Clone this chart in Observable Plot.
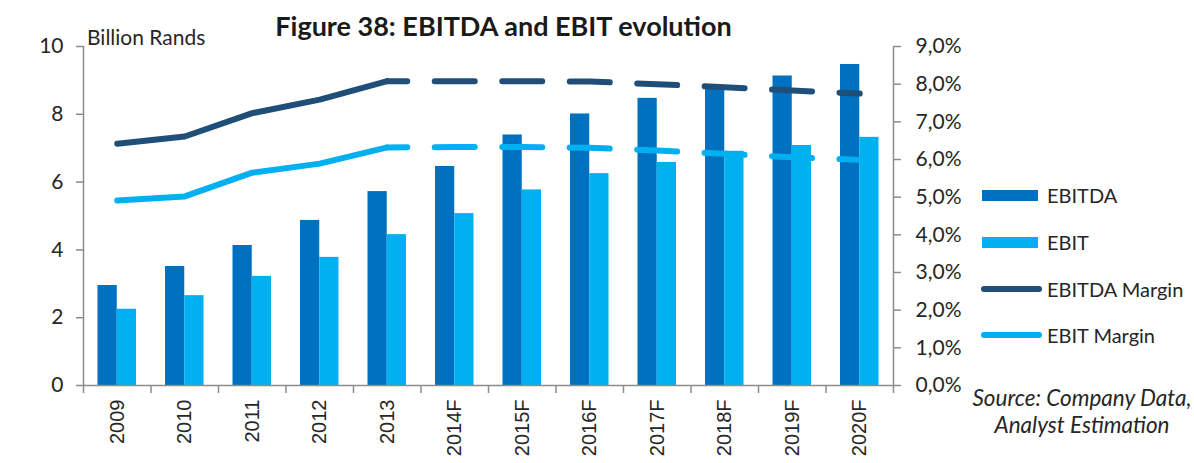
<!DOCTYPE html>
<html>
<head>
<meta charset="utf-8">
<script src="https://cdn.jsdelivr.net/npm/d3@7"></script>
<script src="https://cdn.jsdelivr.net/npm/@observablehq/plot@0.6"></script>
<style>
  html, body { margin: 0; padding: 0; background: #fff; }
  #wrap { position: relative; width: 1194px; height: 463px; overflow: hidden; font-family: Lato, "Noto Sans", sans-serif; color: #1f1f1f; }
  #chart { position: absolute; left: 0; top: 0; }
  .abs { position: absolute; white-space: nowrap; }
  .title { left: 0; width: 1007px; top: 12.1px; text-align: center; font-size: 27px; font-weight: 700; line-height: 27px; color: #1a1a1a; }
  .unit { left: 87px; top: 26.4px; font-size: 21px; line-height: 21px; color: #262626; }
  .legend-item { left: 981px; height: 0; }
  .legend-item .sw { position: absolute; left: 0; }
  .legend-item .lab { position: absolute; left: 66px; font-size: 20px; line-height: 20px; top: -9.8px; color: #262626; }
  .source { left: 960px; width: 244px; text-align: center; font-size: 22.5px; line-height: 22.5px; font-style: italic; color: #262626; }
</style>
</head>
<body>
<div id="wrap">
  <div id="chart"></div>
  <div class="abs title">Figure 38: EBITDA and EBIT evolution</div>
  <div class="abs unit">Billion Rands</div>
  <div id="legend"></div>
  <div class="abs source" style="top: 386.7px">Source: Company Data,</div>
  <div class="abs source" style="top: 413.5px">Analyst Estimation</div>
</div>
<script>
// Years (actuals through 2013, forecasts after)
const years = ["2009", "2010", "2011", "2012", "2013", "2014F", "2015F", "2016F", "2017F", "2018F", "2019F", "2020F"];
const lastActual = "2013";
// Billion Rands
const ebitda = [2.95, 3.51, 4.13, 4.87, 5.72, 6.46, 7.39, 8.01, 8.47, 8.77, 9.13, 9.47];
const ebit = [2.25, 2.65, 3.22, 3.78, 4.45, 5.07, 5.77, 6.25, 6.58, 6.91, 7.08, 7.32];
// Margins, percent
const ebitdaMargin = [6.42, 6.61, 7.23, 7.59, 8.08, 8.08, 8.08, 8.07, 8.00, 7.92, 7.83, 7.75];
const ebitMargin = [4.91, 5.02, 5.65, 5.89, 6.32, 6.33, 6.33, 6.31, 6.24, 6.15, 6.06, 5.99];
// Axis ticks
const leftTicks = [0, 2, 4, 6, 8, 10];
const rightTicks = [0, 1, 2, 3, 4, 5, 6, 7, 8, 9];

const colors = { ebitda: "#0070C0", ebit: "#00B0F0", ebitdaMargin: "#1F4E79", ebitMargin: "#00B0F0" };
const axisGray = "#8c8c8c";
const textColor = "#262626";

// Left axis runs 0–10, right axis 0–9 %; margins are drawn on the left scale
const leftMax = 10, rightMax = 9;
const toLeft = (p) => p * leftMax / rightMax;

const rows = years.map((year, i) => ({
  year, ebitda: ebitda[i], ebit: ebit[i],
  ebitdaMargin: ebitdaMargin[i], ebitMargin: ebitMargin[i]
}));
const split = years.indexOf(lastActual);
const actual = rows.slice(0, split + 1);
const forecast = rows.slice(split);

const W = 1194, H = 463;
const margin = { top: 46, right: 301, bottom: 78, left: 83 };
const step = (W - margin.left - margin.right) / years.length;
const pairWidth = 38.5;
const padInner = 1 - pairWidth / step;
const lineWidth = 6;
// long dashes centred on each forecast year
const dashLen = 40, gapLen = step - dashLen;

const lineOpts = (key, color) => ({
  x: "year", y: (d) => toLeft(d[key]), stroke: color, strokeWidth: lineWidth,
  strokeLinecap: "round", strokeLinejoin: "round"
});

const chart = Plot.plot({
  width: W, height: H,
  marginTop: margin.top, marginRight: margin.right, marginBottom: margin.bottom, marginLeft: margin.left,
  style: { fontFamily: "Lato, 'Noto Sans', sans-serif", fontSize: "21px", color: textColor, background: "transparent", overflow: "visible" },
  x: { domain: years, paddingInner: padInner, paddingOuter: padInner / 2, round: false, label: null },
  y: { domain: [0, leftMax], label: null },
  marks: [
    Plot.barY(rows, { x: "year", y: "ebitda", fill: colors.ebitda, insetRight: pairWidth / 2 }),
    Plot.barY(rows, { x: "year", y: "ebit", fill: colors.ebit, insetLeft: pairWidth / 2 }),
    // axis lines
    Plot.ruleY([0], { stroke: axisGray, strokeWidth: 1.5 }),
    Plot.ruleX([years[0]], { dx: -step / 2, stroke: axisGray, strokeWidth: 1.5 }),
    Plot.ruleX([years[years.length - 1]], { dx: step / 2, stroke: axisGray, strokeWidth: 1.5 }),
    // left axis
    Plot.axisY(leftTicks, { anchor: "left", tickSize: 7, tickPadding: 13, stroke: axisGray, strokeWidth: 1.5, fill: textColor, fontSize: 21, label: null }),
    // right axis (percent)
    Plot.axisY(rightTicks.map(toLeft), {
      anchor: "right", tickSize: 7, tickPadding: 15, stroke: axisGray, strokeWidth: 1.5, fill: textColor, fontSize: 21, label: null,
      tickFormat: (d) => (d * rightMax / leftMax).toFixed(1).replace(".", ",") + "%"
    }),
    // bottom ticks between categories
    Plot.axisX(years, { anchor: "bottom", tickSize: 8, dx: -step / 2, stroke: axisGray, strokeWidth: 1.5, fill: "none", label: null }),
    Plot.axisX([years[years.length - 1]], { anchor: "bottom", tickSize: 8, dx: step / 2, stroke: axisGray, strokeWidth: 1.5, fill: "none", label: null }),
    // year labels
    Plot.axisX(years, { anchor: "bottom", tickSize: 0, tickPadding: 14, tickRotate: -90, fill: textColor, fontFamily: "'Liberation Sans', Arial, sans-serif", fontSize: 20, label: null }),
    // margins: solid for actuals, dashed for forecasts
    Plot.line(actual, lineOpts("ebitdaMargin", colors.ebitdaMargin)),
    Plot.line(forecast, { ...lineOpts("ebitdaMargin", colors.ebitdaMargin), strokeDasharray: `${dashLen},${gapLen}`, strokeDashoffset: dashLen / 2 }),
    Plot.line(actual, lineOpts("ebitMargin", colors.ebitMargin)),
    Plot.line(forecast, { ...lineOpts("ebitMargin", colors.ebitMargin), strokeDasharray: `${dashLen},${gapLen}`, strokeDashoffset: dashLen / 2 })
  ]
});
document.getElementById("chart").append(chart);

// Legend
const legendItems = [
  { label: "EBITDA", color: colors.ebitda, kind: "bar", y: 195 },
  { label: "EBIT", color: colors.ebit, kind: "bar", y: 242 },
  { label: "EBITDA Margin", color: colors.ebitdaMargin, kind: "line", y: 288.5 },
  { label: "EBIT Margin", color: colors.ebitMargin, kind: "line", y: 335 }
];
const legend = d3.select("#legend");
for (const item of legendItems) {
  const row = legend.append("div").attr("class", "abs legend-item").style("top", item.y + "px");
  const sw = row.append("div").attr("class", "sw").style("background", item.color);
  if (item.kind === "bar") {
    sw.style("left", "1px").style("width", "56px").style("height", "11px").style("top", "-5.5px");
  } else {
    sw.style("width", "61px").style("height", lineWidth + "px").style("top", -lineWidth / 2 + "px").style("border-radius", lineWidth / 2 + "px");
  }
  row.append("div").attr("class", "lab").text(item.label);
}
</script>
</body>
</html>
